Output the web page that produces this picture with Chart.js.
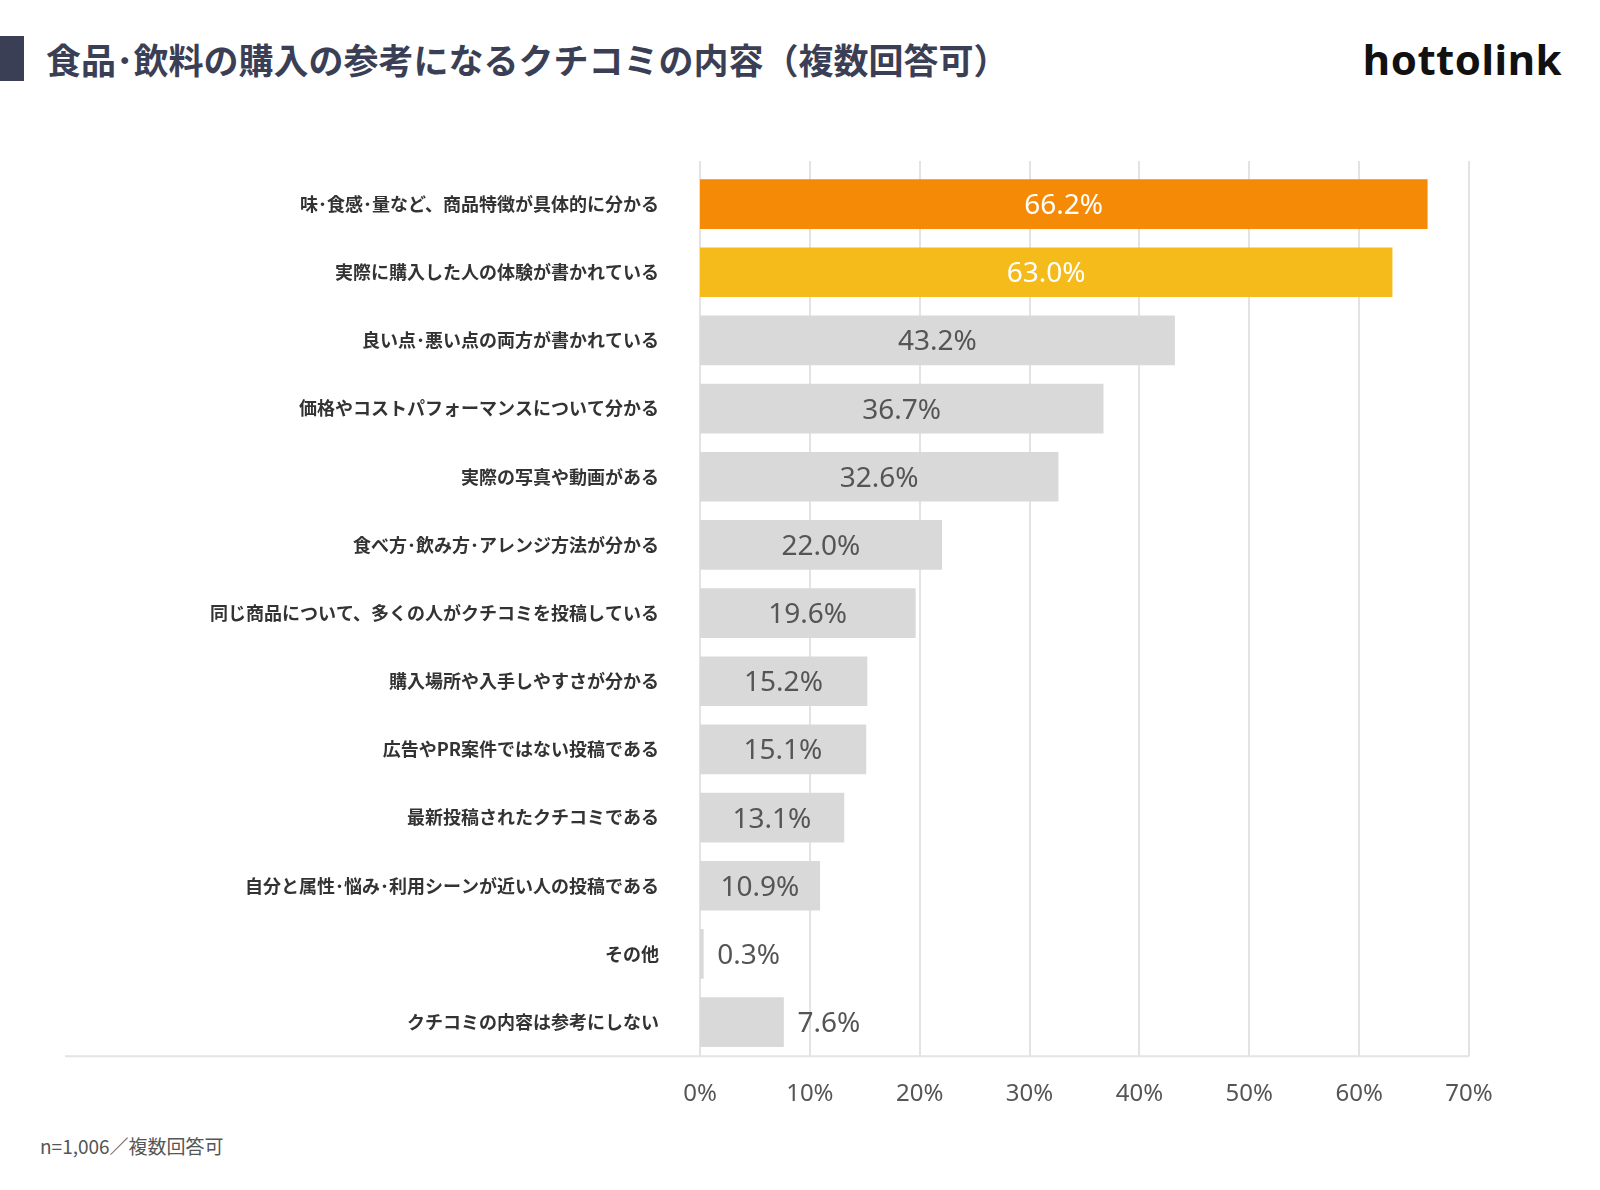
<!DOCTYPE html>
<html><head><meta charset="utf-8">
<script src="https://cdn.jsdelivr.net/npm/chart.js@4"></script>
<style>
body{margin:0;width:1600px;height:1190px;background:#fff;position:relative;font-family:"Noto Sans CJK JP","Noto Sans",sans-serif;overflow:hidden}
#t{position:absolute;left:0;top:33px;height:50px;display:flex;align-items:center}
#t .sq{width:24px;height:45px;background:#3b3f55;margin-right:22px}
#t span{font-size:35px;font-weight:bold;color:#3b3f55}
#logo{position:absolute;right:38px;top:30px;font-family:"Noto Sans","DejaVu Sans",sans-serif;font-weight:bold;font-size:42px;color:#111;letter-spacing:0.5px}
#n{position:absolute;left:40px;top:1132px;font-size:19px;color:#555}
canvas{position:absolute;left:0;top:0}
</style></head><body>
<div id="t"><div class="sq"></div><span>食品･飲料の購入の参考になるクチコミの内容（複数回答可）</span></div>
<div id="logo">hottolink</div>
<div id="n">n=1,006／複数回答可</div>
<canvas id="c" width="1600" height="1190"></canvas>
<script>
const categories=["味･食感･量など、商品特徴が具体的に分かる","実際に購入した人の体験が書かれている","良い点･悪い点の両方が書かれている","価格やコストパフォーマンスについて分かる","実際の写真や動画がある","食べ方･飲み方･アレンジ方法が分かる","同じ商品について、多くの人がクチコミを投稿している","購入場所や入手しやすさが分かる","広告やPR案件ではない投稿である","最新投稿されたクチコミである","自分と属性･悩み･利用シーンが近い人の投稿である","その他","クチコミの内容は参考にしない"];
const values=[66.2,63.0,43.2,36.7,32.6,22.0,19.6,15.2,15.1,13.1,10.9,0.3,7.6];
const tickLabels=["0%","10%","20%","30%","40%","50%","60%","70%"];
const colors=values.map((v,i)=>i===0?"#f58a07":i===1?"#f5bb1b":"#d9d9d9");
const deco={id:"deco",beforeDatasetsDraw(ch){const c=ch.ctx,x=ch.scales.x,a=ch.chartArea;c.save();c.strokeStyle="#e3e3e3";c.lineWidth=2;
for(let v=0;v<=70;v+=10){const px=Math.round(x.getPixelForValue(v));c.beginPath();c.moveTo(px,161);c.lineTo(px,a.bottom);c.stroke();}
c.beginPath();c.moveTo(65,a.bottom);c.lineTo(x.getPixelForValue(70),a.bottom);c.stroke();c.restore();},
afterDatasetsDraw(ch){const c=ch.ctx,x=ch.scales.x,m=ch.getDatasetMeta(0);c.save();c.font='28px "Noto Sans","Open Sans",sans-serif';c.textBaseline="middle";
m.data.forEach((b,i)=>{const v=values[i],t=v.toFixed(1)+"%";const l=x.getPixelForValue(0);
if(v<9){c.textAlign="left";c.fillStyle="#555";c.fillText(t,b.x+14,b.y+2);}else{c.textAlign="center";c.fillStyle=i<2?"#fff":"#555";c.fillText(t,(l+b.x)/2,b.y+2);}});c.restore();}};
new Chart(document.getElementById("c"),{type:"bar",data:{labels:categories,datasets:[{data:values,backgroundColor:colors,barThickness:49}]},
options:{indexAxis:"y",responsive:false,animation:false,events:[],layout:{padding:{top:170,bottom:65,right:131}},
plugins:{legend:{display:false},tooltip:{enabled:false}},
scales:{x:{min:0,max:70,ticks:{stepSize:10,padding:16,color:"#555",font:{size:24,family:'"Noto Sans",sans-serif'},callback:(v,i)=>tickLabels[i]},grid:{display:false},border:{display:false}},
y:{afterFit(s){s.width=700},ticks:{padding:33,color:"#333",font:{size:18,weight:"bold",family:'"Noto Sans CJK JP"'}},grid:{display:false},border:{display:false}}}},plugins:[deco]});
</script></body></html>
